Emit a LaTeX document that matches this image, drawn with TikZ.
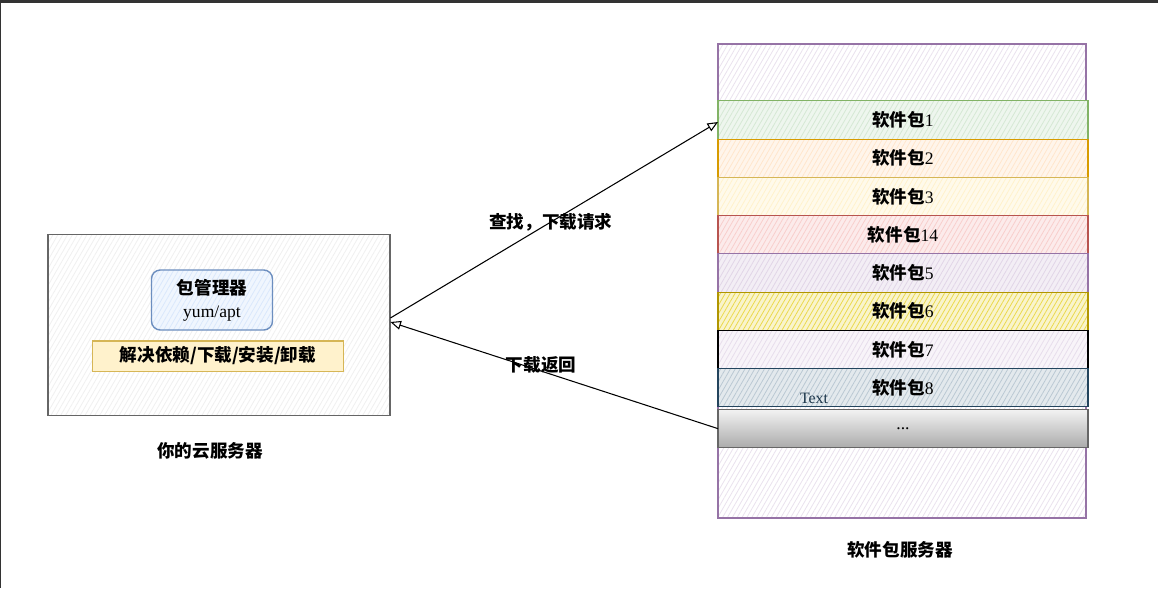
\documentclass[tikz,border=0pt]{standalone}
\usepackage{fontspec}
\setmainfont{Liberation Serif}
\newfontfamily\cjk{Noto Sans CJK SC}
\usepackage{tikz}
\usetikzlibrary{arrows.meta, positioning, patterns.meta}
\definecolor{frame}{HTML}{333333}
\definecolor{greenline}{HTML}{82B366}
\definecolor{greenfill}{HTML}{D5E8D4}
\definecolor{orangeline}{HTML}{D79B00}
\definecolor{orangefill}{HTML}{FFE6CC}
\definecolor{yellowline}{HTML}{D6B656}
\definecolor{yellowfill}{HTML}{FFF2CC}
\definecolor{redline}{HTML}{B85450}
\definecolor{redfill}{HTML}{F8CECC}
\definecolor{purpleline}{HTML}{9673A6}
\definecolor{purplefill}{HTML}{E1D5E7}
\definecolor{goldline}{HTML}{B09500}
\definecolor{goldfill}{HTML}{E3C800}
\definecolor{navyline}{HTML}{23445D}
\definecolor{navyfill}{HTML}{BAC8D3}
\definecolor{blueline}{HTML}{6C8EBF}
\definecolor{bluefill}{HTML}{DAE8FC}
\newcommand{\pkglabel}[1]{{\cjk\bfseries 软件包}#1}

\begin{document}
\begin{tikzpicture}[x=0.2mm, y=-0.2mm,
    hatch/.style 2 args={preaction={fill=#1}, pattern={Lines[angle=60, distance=2.4pt, line width=0.45pt]}, pattern color=#2},
    pkg/.style={rectangle, draw=#1, line width=0.6pt, minimum width=7.4cm, minimum height=0.765cm, inner sep=0pt, outer sep=0pt, font=\fontsize{10}{12}\selectfont},
    caption/.style={font=\cjk\bfseries\fontsize{10}{12}\selectfont},
    arrow/.style={-{Triangle[open, length=6pt, width=5pt]}, line width=0.6pt}
]
\useasboundingbox (0,0) rectangle (1158,588);
\fill[frame] (0,0) rectangle (1158,3);
\draw[frame, line width=0.6pt] (0.5,3) -- (0.5,588);

% cloud server
\node[rectangle, draw=black!60, line width=0.6pt, minimum width=6.84cm, minimum height=3.62cm, hatch={white}{black!6}] (server) at (219,325) {};
\node[rectangle, rounded corners=5pt, draw=blueline, line width=0.8pt, minimum width=2.42cm, minimum height=1.2cm, align=center, hatch={bluefill!40}{bluefill}, font=\fontsize{10}{13}\selectfont] (pm) at (212,300) {{\cjk\bfseries 包管理器}\\yum/apt};
\node[rectangle, draw=yellowline, fill=yellowfill, line width=0.6pt, minimum width=5.02cm, minimum height=0.6cm, caption] (tasks) at (218,356) {解决依赖/下载/安装/卸载};
\node[caption] (servername) at (210,451) {你的云服务器};

% package server
\node[rectangle, draw=purpleline, line width=0.6pt, minimum width=7.36cm, minimum height=9.48cm, hatch={white}{purplefill!70}] (repo) at (902,281) {};
\node[pkg=greenline, hatch={greenfill!40}{greenfill}] (pkg1) at (903,120) {\pkglabel{1}};
\node[pkg=orangeline, hatch={orangefill!40}{orangefill}, below=0pt of pkg1] (pkg2) {\pkglabel{2}};
\node[pkg=yellowline, hatch={yellowfill!40}{yellowfill}, below=0pt of pkg2] (pkg3) {\pkglabel{3}};
\node[pkg=redline, hatch={redfill!40}{redfill}, below=0pt of pkg3] (pkg4) {\pkglabel{14}};
\node[pkg=purpleline, hatch={purplefill!40}{purplefill}, below=0pt of pkg4] (pkg5) {\pkglabel{5}};
\node[pkg=goldline, hatch={goldfill!20}{goldfill!70}, below=0pt of pkg5] (pkg6) {\pkglabel{6}};
\node[pkg=black, hatch={purplefill!25}{purplefill!80}, below=0pt of pkg6] (pkg7) {\pkglabel{7}};
\node[pkg=navyline, hatch={navyfill!40}{navyfill}, below=0pt of pkg7] (pkg8) {\pkglabel{8}};
\node[font=\fontsize{9}{11}\selectfont, text=navyline!80!black] (txt) at (814,398) {Text};
\node[pkg=black!60, top color=black!5, bottom color=black!33, below=1.5pt of pkg8] (more) {...};
\node[caption] (reponame) at (900,550) {软件包服务器};

% requests
\draw[arrow] ([yshift=0.14cm]server.east) -- node[caption, pos=0.49] {查找，下载请求} ([yshift=-0.04cm]pkg1.west);
\draw[arrow] (more.west) -- node[caption, pos=0.54, yshift=0.12cm] {下载返回} ([yshift=0.06cm]server.east);

\end{tikzpicture}
\end{document}
